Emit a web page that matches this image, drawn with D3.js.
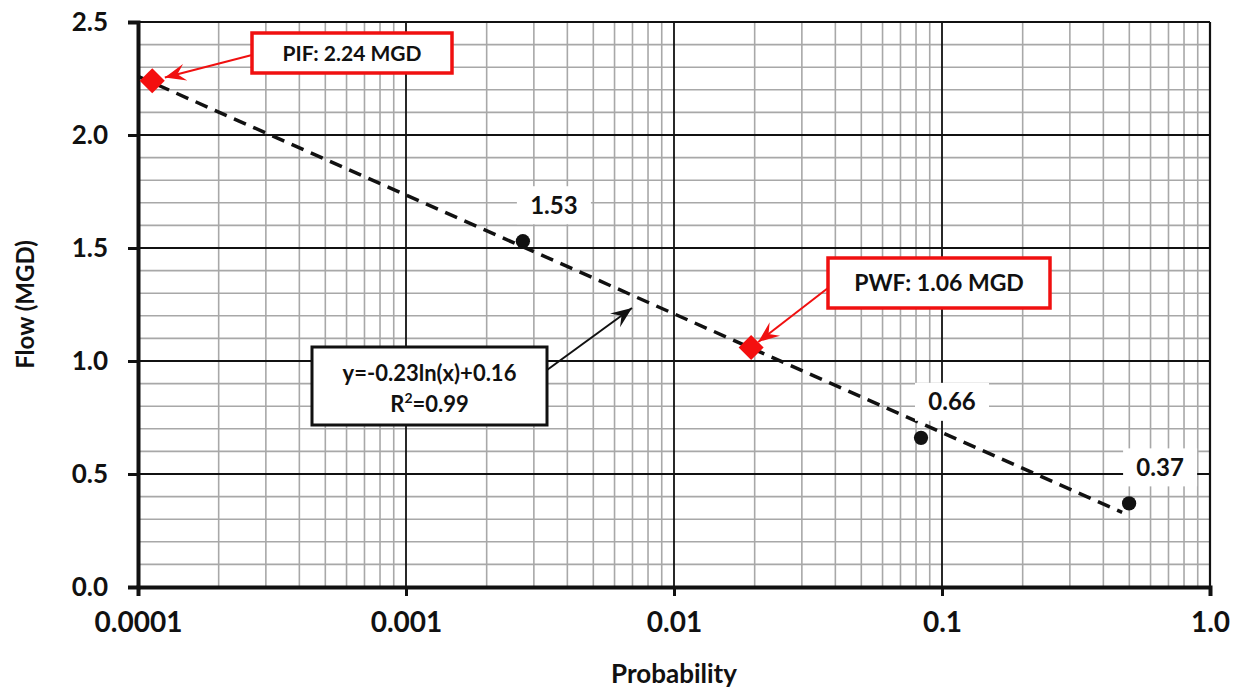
<!DOCTYPE html>
<html>
<head>
<meta charset="utf-8">
<script src="https://cdn.jsdelivr.net/npm/d3@7"></script>
<style>
  body { margin: 0; background: #fff; }
  text { font-family: Lato, "Open Sans", sans-serif; font-weight: bold; fill: #111; }
</style>
</head>
<body>
<div id="chart"></div>
<script>
// values
var probTicks = [0.0001, 0.001, 0.01, 0.1, 1];
var probTickLabels = ["0.0001", "0.001", "0.01", "0.1", "1.0"];
var flowTicks = [0, 0.5, 1.0, 1.5, 2.0, 2.5];

var pointProb = [0.00273, 0.0835, 0.499];
var pointFlow = [1.53, 0.66, 0.37];
var pointLabels = ["1.53", "0.66", "0.37"];

var peakProb = [0.000113, 0.0194];
var peakFlow = [2.24, 1.06];
var peakLabels = ["PIF: 2.24 MGD", "PWF: 1.06 MGD"];

// ends of the fitted line y=-0.23ln(x)+0.16 as drawn
var trendProb = [0.0001, 0.47];
var trendFlow = [2.26, 0.33];

var W = 1234, H = 689;
var margin = {top: 22, right: 24, bottom: 102, left: 138},
    width = W - margin.left - margin.right,
    height = H - margin.top - margin.bottom;

var svg = d3.select("#chart").append("svg")
    .attr("width", W)
    .attr("height", H);

var x = d3.scaleLog().domain([0.0001, 1]).range([margin.left, margin.left + width]);
var y = d3.scaleLinear().domain([0, 2.5]).range([margin.top + height, margin.top]);

var defs = svg.append("defs");
function arrowHead(id, color) {
  defs.append("marker")
    .attr("id", id)
    .attr("viewBox", "-22 -10 24 20")
    .attr("refX", 0).attr("refY", 0)
    .attr("markerUnits", "userSpaceOnUse")
    .attr("markerWidth", 24).attr("markerHeight", 20)
    .attr("orient", "auto")
    .append("path")
    .attr("d", "M0,0 L-21,-8.5 L-13,0 L-21,8.5 Z")
    .attr("fill", color);
}
arrowHead("redArrow", "#f01010");
arrowHead("blackArrow", "#111");

// grid
var grid = svg.append("g");
var xMinor = x.ticks().filter(function(d) { return probTicks.indexOf(d) < 0 && Math.abs(Math.log10(d) - Math.round(Math.log10(d))) > 1e-9; });
var yMinor = y.ticks(25).filter(function(d) { return Math.abs(d * 2 - Math.round(d * 2)) > 1e-9; });

grid.selectAll(".xmin").data(xMinor).enter().append("line")
    .attr("x1", function(d) { return x(d); }).attr("x2", function(d) { return x(d); })
    .attr("y1", y(0)).attr("y2", y(2.5))
    .attr("stroke", "#a8a8a8").attr("stroke-width", 1.6);
grid.selectAll(".ymin").data(yMinor).enter().append("line")
    .attr("x1", x(0.0001)).attr("x2", x(1))
    .attr("y1", function(d) { return y(d); }).attr("y2", function(d) { return y(d); })
    .attr("stroke", "#a8a8a8").attr("stroke-width", 1.6);
grid.selectAll(".xmaj").data(probTicks).enter().append("line")
    .attr("x1", function(d) { return x(d); }).attr("x2", function(d) { return x(d); })
    .attr("y1", y(0)).attr("y2", y(2.5))
    .attr("stroke", "#111").attr("stroke-width", 1.8);
grid.selectAll(".ymaj").data(flowTicks).enter().append("line")
    .attr("x1", x(0.0001)).attr("x2", x(1))
    .attr("y1", function(d) { return y(d); }).attr("y2", function(d) { return y(d); })
    .attr("stroke", "#111").attr("stroke-width", 1.8);

// axes
var xAxis = svg.append("g")
    .attr("transform", "translate(0," + y(0) + ")")
    .call(d3.axisBottom(x).tickValues(probTicks)
      .tickFormat(function(d, i) { return probTickLabels[i]; })
      .tickSize(9).tickPadding(16));
xAxis.select(".domain").attr("stroke", "#111").attr("stroke-width", 4);
xAxis.selectAll(".tick line").attr("stroke", "#111").attr("stroke-width", 3);
xAxis.selectAll(".tick text").style("font-size", "28px").style("font-family", "Lato").style("font-weight", "bold").attr("fill", "#111");

var yAxis = svg.append("g")
    .attr("transform", "translate(" + x(0.0001) + ",0)")
    .call(d3.axisLeft(y).tickValues(flowTicks).tickFormat(d3.format(".1f"))
      .tickSize(10).tickPadding(20));
yAxis.select(".domain").attr("stroke", "#111").attr("stroke-width", 4);
yAxis.selectAll(".tick line").attr("stroke", "#111").attr("stroke-width", 3);
yAxis.selectAll(".tick text").style("font-size", "26px").style("font-family", "Lato").style("font-weight", "bold").attr("fill", "#111");

// right border
svg.append("line")
    .attr("x1", x(1)).attr("x2", x(1)).attr("y1", y(0)).attr("y2", y(2.5))
    .attr("stroke", "#111").attr("stroke-width", 2.2);

// axis titles
svg.append("text")
    .attr("x", (x(0.0001) + x(1)) / 2 + 0).attr("y", 683)
    .attr("text-anchor", "middle")
    .style("font-size", "26px")
    .text("Probability");
svg.append("text")
    .attr("transform", "translate(34," + ((y(0) + y(2.5)) / 2) + ") rotate(-90)")
    .attr("text-anchor", "middle")
    .style("font-size", "24px")
    .text("Flow (MGD)");

// trend line
svg.append("path")
    .datum(d3.zip(trendProb, trendFlow))
    .attr("fill", "none")
    .attr("stroke", "#111")
    .attr("stroke-width", 3.5)
    .attr("stroke-dasharray", "13,8")
    .attr("d", d3.line().x(function(d) { return x(d[0]); }).y(function(d) { return y(d[1]); }));

// data point labels with white backgrounds
var pts = d3.zip(pointProb, pointFlow, pointLabels);
var lab = svg.selectAll(".plab").data(pts).enter().append("g")
    .attr("transform", function(d) { return "translate(" + (x(d[0]) + 31) + "," + (y(d[1]) - 36) + ")"; });
lab.append("rect")
    .attr("x", -37).attr("y", -19).attr("width", 74).attr("height", 38)
    .attr("fill", "#fff");
lab.append("text")
    .attr("text-anchor", "middle").attr("dy", "0.36em")
    .style("font-size", "24px")
    .text(function(d) { return d[2]; });

// data points
svg.selectAll(".pt").data(pts).enter().append("path")
    .attr("transform", function(d) { return "translate(" + x(d[0]) + "," + y(d[1]) + ")"; })
    .attr("d", d3.symbol(d3.symbolCircle, 160))
    .attr("fill", "#111");

// peak flow markers and callouts
var peaks = d3.zip(peakProb, peakFlow, peakLabels);
var boxes = [
  {x: 252, y: 33, w: 200, h: 40, ax: 252, ay: 55},
  {x: 828, y: 258, w: 222, h: 50, ax: 828, ay: 288}
];

peaks.forEach(function(d, i) {
  var b = boxes[i];
  var cx = x(d[0]), cy = y(d[1]);
  var dx = b.ax - cx, dy = b.ay - cy, len = Math.sqrt(dx * dx + dy * dy);
  var tip = [cx + dx / len * (i === 0 ? 13 : 9), cy + dy / len * (i === 0 ? 13 : 9)];
  svg.append("line")
    .attr("x1", b.ax).attr("y1", b.ay).attr("x2", tip[0]).attr("y2", tip[1])
    .attr("stroke", "#f01010").attr("stroke-width", 2)
    .attr("marker-end", "url(#redArrow)");
  svg.append("rect")
    .attr("x", b.x).attr("y", b.y).attr("width", b.w).attr("height", b.h)
    .attr("fill", "#fff").attr("stroke", "#f01010").attr("stroke-width", 3.5);
  svg.append("text")
    .attr("x", b.x + b.w / 2).attr("y", b.y + b.h / 2).attr("dy", "0.36em")
    .attr("text-anchor", "middle")
    .style("font-size", i === 0 ? "21px" : "23px")
    .text(d[2]);
});

svg.selectAll(".peak").data(peaks).enter().append("path")
    .attr("transform", function(d) { return "translate(" + x(d[0]) + "," + y(d[1]) + ") rotate(45)"; })
    .attr("d", d3.symbol(d3.symbolSquare, 313))
    .attr("fill", "#f40f0f");

// equation callout
svg.append("line")
    .attr("x1", 547).attr("y1", 370).attr("x2", 632).attr("y2", 308)
    .attr("stroke", "#111").attr("stroke-width", 2)
    .attr("marker-end", "url(#blackArrow)");
svg.append("rect")
    .attr("x", 312).attr("y", 347).attr("width", 235).attr("height", 78)
    .attr("fill", "#fff").attr("stroke", "#111").attr("stroke-width", 3);
var eq = svg.append("text")
    .attr("text-anchor", "middle")
    .style("font-size", "22px");
eq.append("tspan").attr("x", 429.5).attr("y", 381).text("y=-0.23ln(x)+0.16");
var r2 = eq.append("tspan").attr("x", 429.5).attr("y", 412);
r2.append("tspan").text("R");
r2.append("tspan").attr("dy", -9).style("font-size", "14px").text("2");
r2.append("tspan").attr("dy", 9).text("=0.99");
</script>
</body>
</html>
